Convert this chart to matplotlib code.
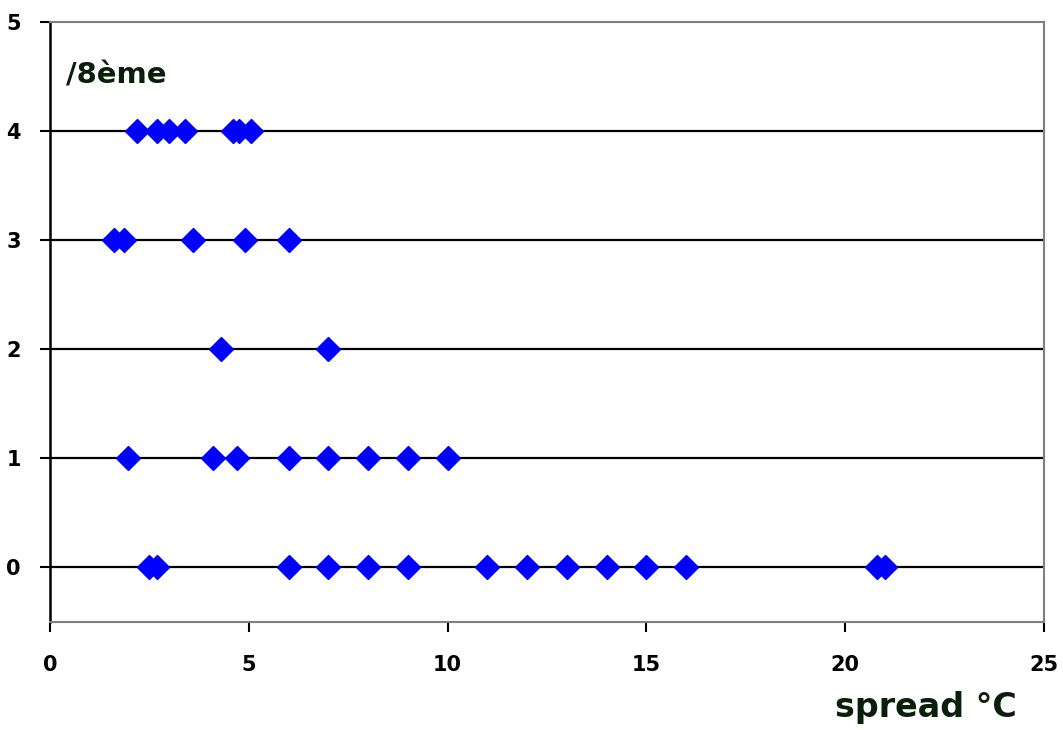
import matplotlib
matplotlib.use("Agg")
import matplotlib.pyplot as plt

# cloud cover (octas) vs spread, one list per cover level
cover_levels = [0, 1, 2, 3, 4]
spread_0 = [2.5, 2.7, 6.0, 7.0, 8.0, 9.0, 11.0, 12.0, 13.0, 14.0, 15.0, 16.0, 20.8, 21.0]
spread_1 = [1.95, 4.1, 4.7, 6.0, 7.0, 8.0, 9.0, 10.0]
spread_2 = [4.3, 7.0]
spread_3 = [1.6, 1.85, 3.6, 4.9, 6.0]
spread_4 = [2.2, 2.7, 3.0, 3.4, 4.6, 4.75, 5.05]
x_ticks = [0, 5, 10, 15, 20, 25]
y_ticks = [0, 1, 2, 3, 4, 5]

plt.rcParams['font.family'] = ['DejaVu Sans']

fig = plt.figure(figsize=(10.63, 7.30), dpi=100)
ax = fig.add_axes([50 / 1063, 1 - 622 / 730, (1044 - 50) / 1063, (622 - 22) / 730])

for lvl in cover_levels:
    ax.axhline(lvl, color='black', lw=1.6, zorder=1)

for lvl, xs in zip(cover_levels, [spread_0, spread_1, spread_2, spread_3, spread_4]):
    ax.plot(xs, [lvl] * len(xs), linestyle='none', marker='D', ms=12.5,
            color='#0000FF', mec='#0000FF', zorder=3, clip_on=False)

ax.set_xlim(0, 25)
ax.set_ylim(-0.5, 5)
ax.set_xticks(x_ticks)
ax.set_yticks(y_ticks)
ax.tick_params(axis='both', direction='out', length=7, width=1.5,
               labelsize=15, colors='black')
ax.tick_params(axis='x', pad=17)
ax.tick_params(axis='y', pad=14)
for lab in ax.get_xticklabels() + ax.get_yticklabels():
    lab.set_fontweight('bold')

ax.spines['left'].set_color('black')
ax.spines['left'].set_linewidth(1.8)
for s in ['top', 'right', 'bottom']:
    ax.spines[s].set_color('#808080')
    ax.spines[s].set_linewidth(1.5)

ax.text(66 / 1063, 1 - 75 / 730, '/8ème', transform=fig.transFigure,
        fontsize=21, fontweight='bold', color='#0a1f0a', va='center', ha='left')
ax.text(835 / 1063, 1 - 707 / 730, 'spread °C', transform=fig.transFigure,
        fontsize=24, fontweight='bold', color='#0a1f0a', va='center', ha='left')

fig.savefig('out.png', dpi=100)
